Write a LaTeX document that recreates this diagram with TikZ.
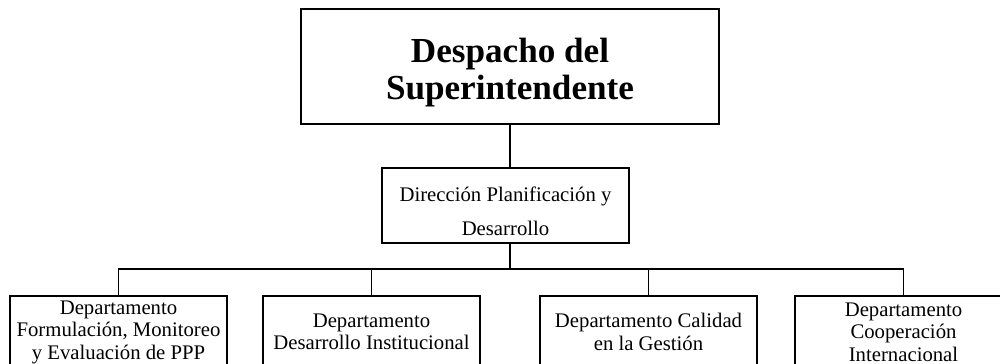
\documentclass[tikz,border=0pt]{standalone}
\usepackage{fontspec}
\setmainfont{Liberation Serif}
\usetikzlibrary{calc}

\begin{document}
\begin{tikzpicture}[x=0.02cm, y=-0.02cm, line width=0.9pt,
    caja/.style={draw, align=center, inner sep=2pt},
    jefe/.style={caja, minimum width=8.36cm, minimum height=2.3cm},
    jefetexto/.style={align=center, yshift=-0.12cm,
                 font=\fontsize{20}{21}\selectfont\bfseries},
    direccion/.style={caja, minimum width=4.94cm, minimum height=1.5cm},
    dirtexto/.style={align=center, yshift=-0.12cm,
                 font=\fontsize{11.8}{19.5}\selectfont},
    depto/.style={caja, minimum width=4.34cm, minimum height=1.44cm,
                 font=\fontsize{11.8}{12.8}\selectfont}]

  % --- Marco (la imagen corta los departamentos abajo) ---
  \useasboundingbox (0,0) rectangle (1000,364);
  \clip (0,0) rectangle (1000,364);

  % --- Niveles superiores ---
  \node[jefe, label={[jefetexto]center:{Despacho del\\Superintendente}}]
    (desp) at (510,66.5) {};
  \node[direccion, label={[dirtexto]center:{Dirección Planificación y\\Desarrollo}}]
    (dir) at (505.5,205.5) {};

  % --- Departamentos ---
  \pgfmathsetmacro{\ydep}{332}
  \node[depto] (dep1) at (118.5,\ydep) {Departamento\\Formulación, Monitoreo\\y Evaluación de PPP};
  \node[depto] (dep2) at (371.5,\ydep) {Departamento\\Desarrollo Institucional};
  \node[depto] (dep3) at (648.5,\ydep) {Departamento Calidad\\en la Gestión};
  \node[depto] (dep4) at (903.5,\ydep) {Departamento\\Cooperación\\Internacional};

  % --- Conexiones ---
  \coordinate (bus) at (510,269);
  \draw (desp.south) -- (desp.south |- dir.north);
  \draw (desp.south |- dir.south) -- (bus);
  \draw (dep1.north) -- (dep1.north |- bus) -- (dep4.north |- bus) -- (dep4.north);
  \foreach \d in {dep2, dep3}
    \draw (\d.north) -- (\d.north |- bus);

\end{tikzpicture}
\end{document}
